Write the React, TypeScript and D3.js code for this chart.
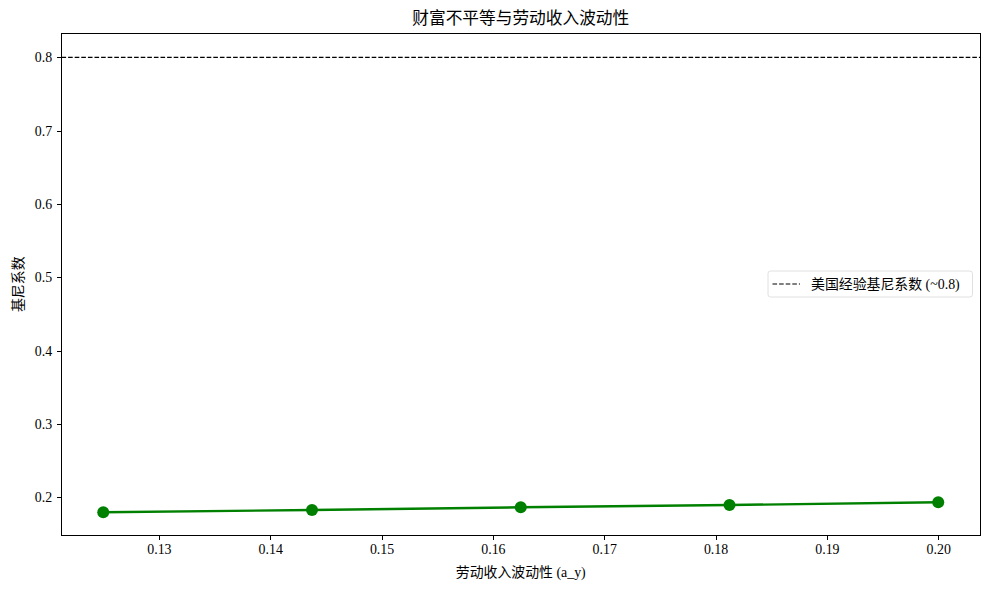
import { useEffect, useRef } from "react";
import * as d3 from "d3";

const volatility = [0.125, 0.14375, 0.1625, 0.18125, 0.2];
const gini = [0.1796, 0.1827, 0.1864, 0.1895, 0.1932];
const usGini = 0.8;
const xTicks = [0.13, 0.14, 0.15, 0.16, 0.17, 0.18, 0.19, 0.2];
const yTicks = [0.2, 0.3, 0.4, 0.5, 0.6, 0.7, 0.8];

const FONT = "'Liberation Serif', 'DejaVu Serif', 'Noto Sans CJK SC', serif";

const App = () => {
  const ref = useRef<SVGSVGElement>(null);

  useEffect(() => {
    const width = 990;
    const height = 590;
    const margin = { top: 33.5, right: 10, bottom: 55, left: 61.5 };
    const w = width - margin.left - margin.right;
    const h = height - margin.top - margin.bottom;

    d3.select(ref.current).selectAll("*").remove();
    const svg = d3.select(ref.current)
      .attr("width", width)
      .attr("height", height)
      .style("font-family", FONT);

    const g = svg.append("g").attr("transform", `translate(${margin.left},${margin.top})`);

    const x = d3.scaleLinear().domain([0.12125, 0.20375]).range([0, w]);
    const y = d3.scaleLinear().domain([0.1486, 0.8326]).range([h, 0]);

    // axes
    const xAxis = g.append("g")
      .attr("transform", `translate(0,${h})`)
      .call(d3.axisBottom(x).tickValues(xTicks).tickSize(4.9).tickPadding(4.5)
        .tickFormat((d) => (d as number).toFixed(2)));
    const yAxis = g.append("g")
      .call(d3.axisLeft(y).tickValues(yTicks).tickSize(4.9).tickPadding(4.5)
        .tickFormat((d) => (d as number).toFixed(1)));
    [xAxis, yAxis].forEach((a) => {
      a.select(".domain").remove();
      a.selectAll("text").attr("font-size", 13.9).attr("font-family", FONT).attr("fill", "#000");
      a.selectAll("line").attr("stroke", "#000").attr("stroke-width", 1)
        .attr("shape-rendering", "crispEdges");
    });

    // frame
    g.append("rect")
      .attr("width", w).attr("height", h)
      .attr("fill", "none").attr("stroke", "#000").attr("stroke-width", 1)
      .attr("shape-rendering", "crispEdges");

    // reference line
    g.append("line")
      .attr("x1", 0).attr("x2", w)
      .attr("y1", y(usGini)).attr("y2", y(usGini))
      .attr("stroke", "#000").attr("stroke-width", 1.2)
      .attr("stroke-dasharray", "4.6,2");

    const pts = volatility.map((v, i) => [v, gini[i]] as [number, number]);
    const line = d3.line<[number, number]>().x((d) => x(d[0])).y((d) => y(d[1]));
    g.append("path")
      .datum(pts)
      .attr("fill", "none")
      .attr("stroke", "#008000")
      .attr("stroke-width", 2.4)
      .attr("d", line);
    g.selectAll("circle.pt").data(pts).enter().append("circle")
      .attr("cx", (d) => x(d[0])).attr("cy", (d) => y(d[1]))
      .attr("r", 6).attr("fill", "#008000");

    // legend
    const lg = g.append("g").attr("transform", `translate(${w - 212},${237.5})`);
    lg.append("rect")
      .attr("width", 204.5).attr("height", 26).attr("rx", 2.5)
      .attr("fill", "#fff").attr("fill-opacity", 0.8)
      .attr("stroke", "#d8d8d8").attr("stroke-width", 0.8);
    lg.append("line")
      .attr("x1", 4.5).attr("x2", 32).attr("y1", 13).attr("y2", 13)
      .attr("stroke", "#000").attr("stroke-width", 1.2)
      .attr("stroke-dasharray", "4.6,2");
    lg.append("text")
      .attr("x", 43).attr("y", 13).attr("dy", "0.35em")
      .attr("font-size", 13.9).text("美国经验基尼系数 (~0.8)");

    // titles
    svg.append("text")
      .attr("x", margin.left + w / 2).attr("y", 24)
      .attr("text-anchor", "middle").attr("font-size", 16.7)
      .text("财富不平等与劳动收入波动性");
    svg.append("text")
      .attr("x", margin.left + w / 2).attr("y", 577)
      .attr("text-anchor", "middle").attr("font-size", 13.9)
      .text("劳动收入波动性 (a_y)");
    svg.append("text")
      .attr("transform", `translate(23,${margin.top + h / 2}) rotate(-90)`)
      .attr("text-anchor", "middle").attr("font-size", 13.9)
      .text("基尼系数");
  }, []);

  return <svg ref={ref} style={{ position: "absolute", left: 0, top: 0 }}></svg>;
};

export default App;
